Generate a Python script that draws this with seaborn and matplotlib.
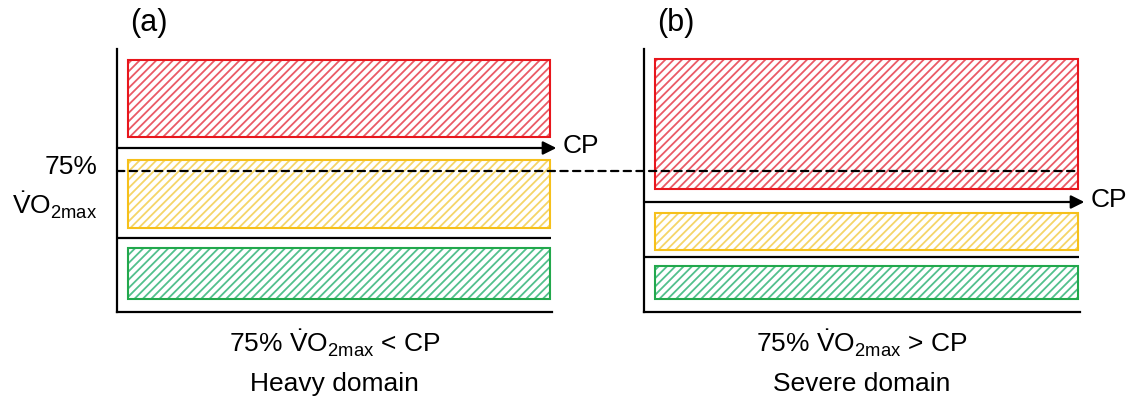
import matplotlib.pyplot as plt
import seaborn as sns
from matplotlib.patches import ConnectionPatch

sns.set_style('white')
plt.rcParams['font.family'] = ['Liberation Sans', 'DejaVu Sans']
plt.rcParams['mathtext.fontset'] = 'custom'
plt.rcParams['mathtext.rm'] = 'Liberation Sans'
plt.rcParams['mathtext.it'] = 'Liberation Sans'
plt.rcParams['hatch.linewidth'] = 1.3
plt.rcParams['text.color'] = 'black'

# intensity (arbitrary units, 0 = bottom axis, 263 = top of y axis)
zones = ['severe', 'heavy', 'moderate']
zone_colors = ['#e8161c', '#f6c01a', '#22a84c']
hatch_colors = ['#ea5a66', '#f5d568', '#52c08c']

# panel (a): heavy domain
a_bottoms = [175, 84, 13]
a_tops = [252, 152, 64]
a_cp = 164
a_threshold = 74

# panel (b): severe domain
b_bottoms = [123, 62, 13]
b_tops = [253, 99, 46]
b_cp = 110
b_threshold = 55

vo2_75 = 141

panel_labels = ['(a)', '(b)']
captions = [r'75% $\dot{\mathrm{V}}\mathrm{O}_{\mathrm{2max}}$ < CP',
            r'75% $\dot{\mathrm{V}}\mathrm{O}_{\mathrm{2max}}$ > CP']
domains = ['Heavy domain', 'Severe domain']

fig = plt.figure(figsize=(11.31, 3.99), dpi=100)
ax_a = fig.add_axes([117 / 1131, 87 / 399, 435 / 1131, 263 / 399])
ax_b = fig.add_axes([644 / 1131, 87 / 399, 436 / 1131, 263 / 399])


def draw_panel(ax, bottoms, tops, cp, threshold):
    heights = [t - b for b, t in zip(bottoms, tops)]
    # hatched fill
    ax.barh(bottoms, width=97, left=2.5, height=heights, align='edge',
            color='white', edgecolor=hatch_colors, hatch='////', linewidth=0)
    # solid outline
    ax.barh(bottoms, width=97, left=2.5, height=heights, align='edge',
            fill=False, edgecolor=zone_colors, linewidth=1.5)
    ax.plot([0, 99.8], [threshold, threshold], color='black', lw=1.6,
            clip_on=False, solid_capstyle='butt')
    ax.annotate('', xy=(101, cp), xytext=(0, cp),
                arrowprops=dict(arrowstyle='-|>', lw=1.6, color='black',
                                mutation_scale=20, shrinkA=0, shrinkB=0),
                annotation_clip=False)
    ax.text(102.5, cp + 2, 'CP', fontsize=19, va='center', ha='left')
    ax.set_xlim(0, 100)
    ax.set_ylim(0, 263)
    ax.set_xticks([])
    ax.set_yticks([])
    sns.despine(ax=ax)
    for s in ['left', 'bottom']:
        ax.spines[s].set_linewidth(1.6)
        ax.spines[s].set_color('black')
    ax.patch.set_alpha(0)


draw_panel(ax_a, a_bottoms, a_tops, a_cp, a_threshold)
draw_panel(ax_b, b_bottoms, b_tops, b_cp, b_threshold)

# 75% VO2max dashed line across both panels
con = ConnectionPatch(xyA=(0, vo2_75), coordsA=ax_a.transData,
                      xyB=(99.5, vo2_75), coordsB=ax_b.transData,
                      color='black', lw=1.6, linestyle=(0, (3.3, 2.4)))
fig.add_artist(con)

ax_a.text(-4.5, vo2_75 + 4, '75%', fontsize=19, ha='right', va='center')
ax_a.text(-4.5, vo2_75 - 34, r'$\dot{\mathrm{V}}\mathrm{O}_{\mathrm{2max}}$',
          fontsize=19, ha='right', va='center')

for ax, lab, cap, dom in zip([ax_a, ax_b], panel_labels, captions, domains):
    ax.text(0.03, 1.10, lab, transform=ax.transAxes, fontsize=22,
            ha='left', va='center')
    ax.text(0.5, -0.12, cap, transform=ax.transAxes, fontsize=19,
            ha='center', va='center')
    ax.text(0.5, -0.275, dom, transform=ax.transAxes, fontsize=19,
            ha='center', va='center')

fig.savefig('out.png', dpi=100)
